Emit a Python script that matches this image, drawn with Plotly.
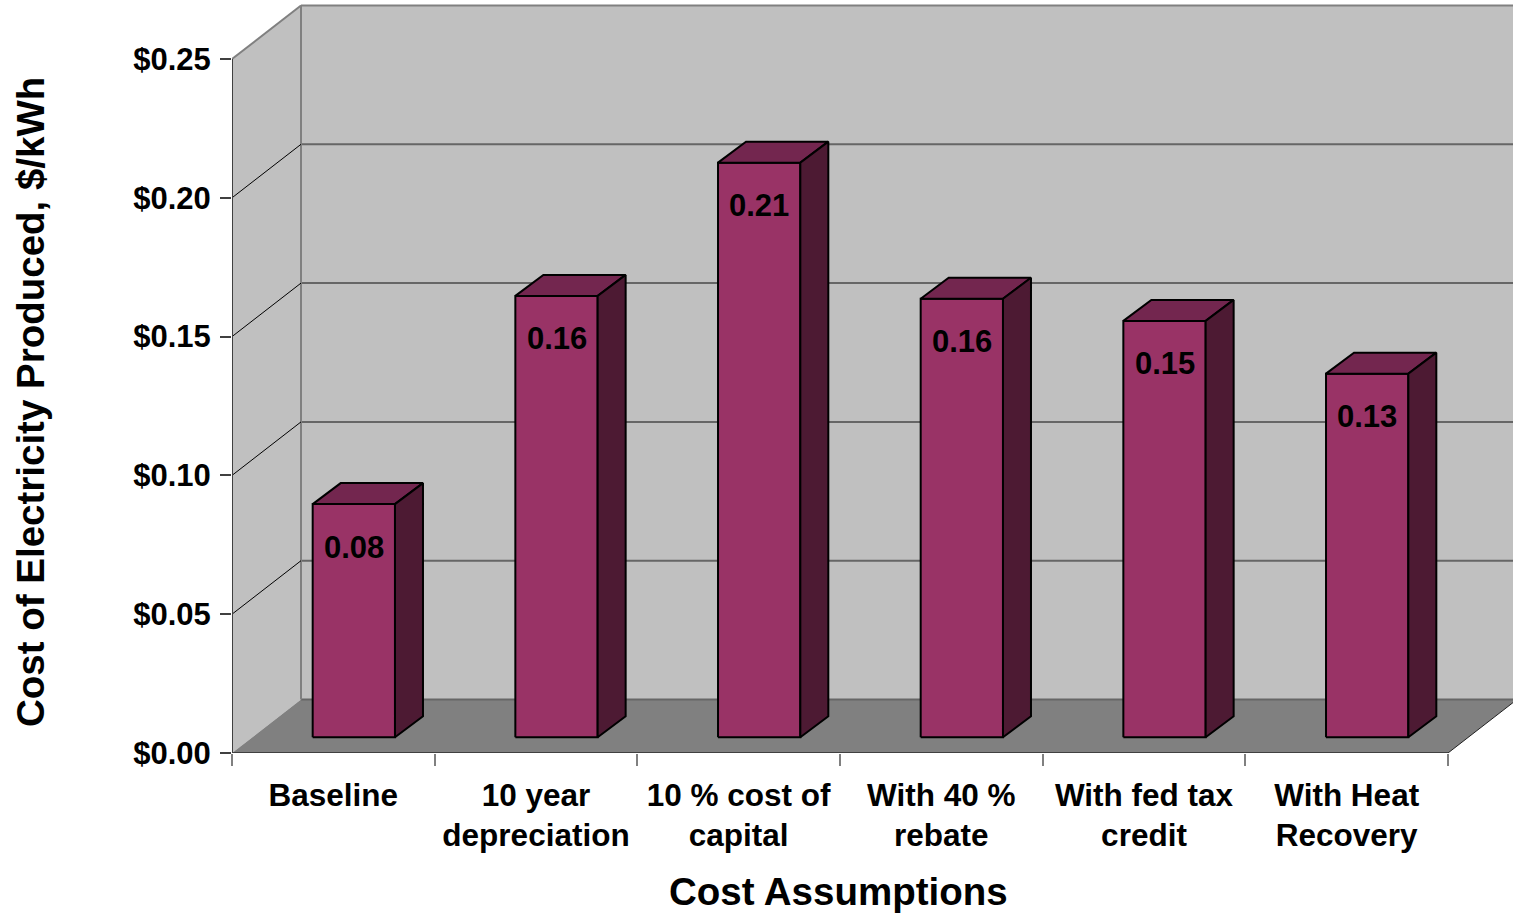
import plotly.graph_objects as go

# ---------------- data ----------------
categories = ["Baseline", "10 year<br>depreciation", "10 % cost of<br>capital",
              "With 40 %<br>rebate", "With fed tax<br>credit", "With Heat<br>Recovery"]
values = [0.084, 0.159, 0.207, 0.158, 0.150, 0.131]
value_labels = ["0.08", "0.16", "0.21", "0.16", "0.15", "0.13"]
y_ticks = [0.00, 0.05, 0.10, 0.15, 0.20, 0.25]
y_tick_labels = ["$0.00", "$0.05", "$0.10", "$0.15", "$0.20", "$0.25"]
y_title = "Cost of Electricity Produced, $/kWh"
x_title = "Cost Assumptions"

# ---------------- layout geometry ----------------
W, H = 1513, 914
ML, MB = 232, 161
PX_CAT = 1216 / 6          # pixels per category
PX_VAL = 694 / 0.25        # pixels per value unit
XMAX = (W - ML) / PX_CAT
YMAX = (H - MB) / PX_VAL
N = len(categories)
YTOP = y_ticks[-1]

# 3-D offsets (in data units)
BX, BY = 69 / PX_CAT, 53.5 / PX_VAL        # back wall depth
OX, OY = 20.5 / PX_CAT, 15.7 / PX_VAL      # bar front plane depth
DX, DY = 28 / PX_CAT, 21 / PX_VAL          # bar depth
BW = 82.3 / PX_CAT                         # bar width

FONT = "Arial, 'Liberation Sans', sans-serif"
FRONT, TOPC, SIDE = "#993366", "#73264f", "#4d1a33"

fig = go.Figure()


def poly(xs, ys, fill, line_color=None, width=0):
    fig.add_trace(go.Scatter(
        x=list(xs) + [xs[0]], y=list(ys) + [ys[0]], mode="lines",
        fill="toself", fillcolor=fill,
        line=dict(color=line_color or fill, width=width),
        hoverinfo="skip", showlegend=False))


def seg(xs, ys, color, width):
    fig.add_trace(go.Scatter(x=xs, y=ys, mode="lines",
                             line=dict(color=color, width=width),
                             hoverinfo="skip", showlegend=False))


# back wall
poly([BX, BX, N + BX + 0.5, N + BX + 0.5], [BY, YTOP + BY, YTOP + BY, BY], "#c0c0c0")
# left wall
poly([0, 0, BX, BX], [0, YTOP, YTOP + BY, BY], "#c0c0c0")
# floor
poly([0, N, N + BX, BX], [0, 0, BY, BY], "#808080")

# back-wall gridlines
for v in y_ticks[:-1]:
    seg([BX, N + BX + 0.5], [v + BY, v + BY], "#666666", 2)
# back wall top and left edges
seg([BX, N + BX + 0.5], [YTOP + BY, YTOP + BY], "#808080", 2)
seg([BX, BX], [BY, YTOP + BY], "#808080", 2)
# left wall gridlines
for v in y_ticks[1:-1]:
    seg([0, BX], [v, v + BY], "#000000", 1)
seg([0, BX], [YTOP, YTOP + BY], "#808080", 2)
# floor right edge
seg([N, N + BX], [0, BY], "#202020", 1)
# axis lines
seg([0, 0], [0, YTOP], "#404040", 2)
seg([0, N], [0, 0], "#404040", 2)

# bars
for i, v in enumerate(values):
    x0 = i + 0.5 + OX - BW / 2
    x1 = x0 + BW
    y0 = OY
    y1 = v + OY
    poly([x0, x1, x1, x0], [y0, y0, y1, y1], FRONT, "#000000", 2)
    poly([x0, x1, x1 + DX, x0 + DX], [y1, y1, y1 + DY, y1 + DY], TOPC, "#000000", 2)
    poly([x1, x1 + DX, x1 + DX, x1], [y0, y0 + DY, y1 + DY, y1], SIDE, "#000000", 2)
    fig.add_annotation(x=i + 0.5 + OX, y=y1, xref="x", yref="y",
                       text=value_labels[i], showarrow=False,
                       yanchor="middle", yshift=-43,
                       font=dict(family=FONT, size=31, color="#000000", weight="bold"))

# axis titles
fig.add_annotation(x=(30 - ML) / (W - ML), y=(H - MB - 402) / (H - MB),
                   xref="paper", yref="paper", text=y_title, showarrow=False,
                   textangle=-90, xanchor="center", yanchor="middle",
                   font=dict(family=FONT, size=38.5, color="#000000", weight="bold"))
fig.add_annotation(x=(838 - ML) / (W - ML), y=(H - MB - 891) / (H - MB),
                   xref="paper", yref="paper", text=x_title, showarrow=False,
                   xanchor="center", yanchor="middle",
                   font=dict(family=FONT, size=38.5, color="#000000", weight="bold"))

fig.update_layout(
    width=W, height=H,
    margin=dict(l=ML, r=0, t=0, b=MB, pad=0),
    paper_bgcolor="#ffffff", plot_bgcolor="#ffffff",
    showlegend=False, hovermode=False,
    xaxis=dict(range=[0, XMAX], showgrid=False, zeroline=False, showline=False,
               tickmode="array", tickvals=[i + 0.5 for i in range(N)],
               ticktext=categories, ticks="", ticklabelstandoff=20,
               tickfont=dict(family=FONT, size=31.5, color="#000000", weight="bold"),
               minor=dict(tickmode="array", tickvals=list(range(N + 1)),
                          ticks="outside", ticklen=12, tickcolor="#808080", tickwidth=2),
               fixedrange=True),
    yaxis=dict(range=[0, YMAX], showgrid=False, zeroline=False, showline=False,
               tickmode="array", tickvals=y_ticks, ticktext=y_tick_labels,
               ticks="outside", ticklen=11, tickcolor="#404040", tickwidth=2,
               ticklabelstandoff=3,
               tickfont=dict(family=FONT, size=31, color="#000000", weight="bold"),
               fixedrange=True),
)

fig.write_html("out.html", config={"displayModeBar": False})
